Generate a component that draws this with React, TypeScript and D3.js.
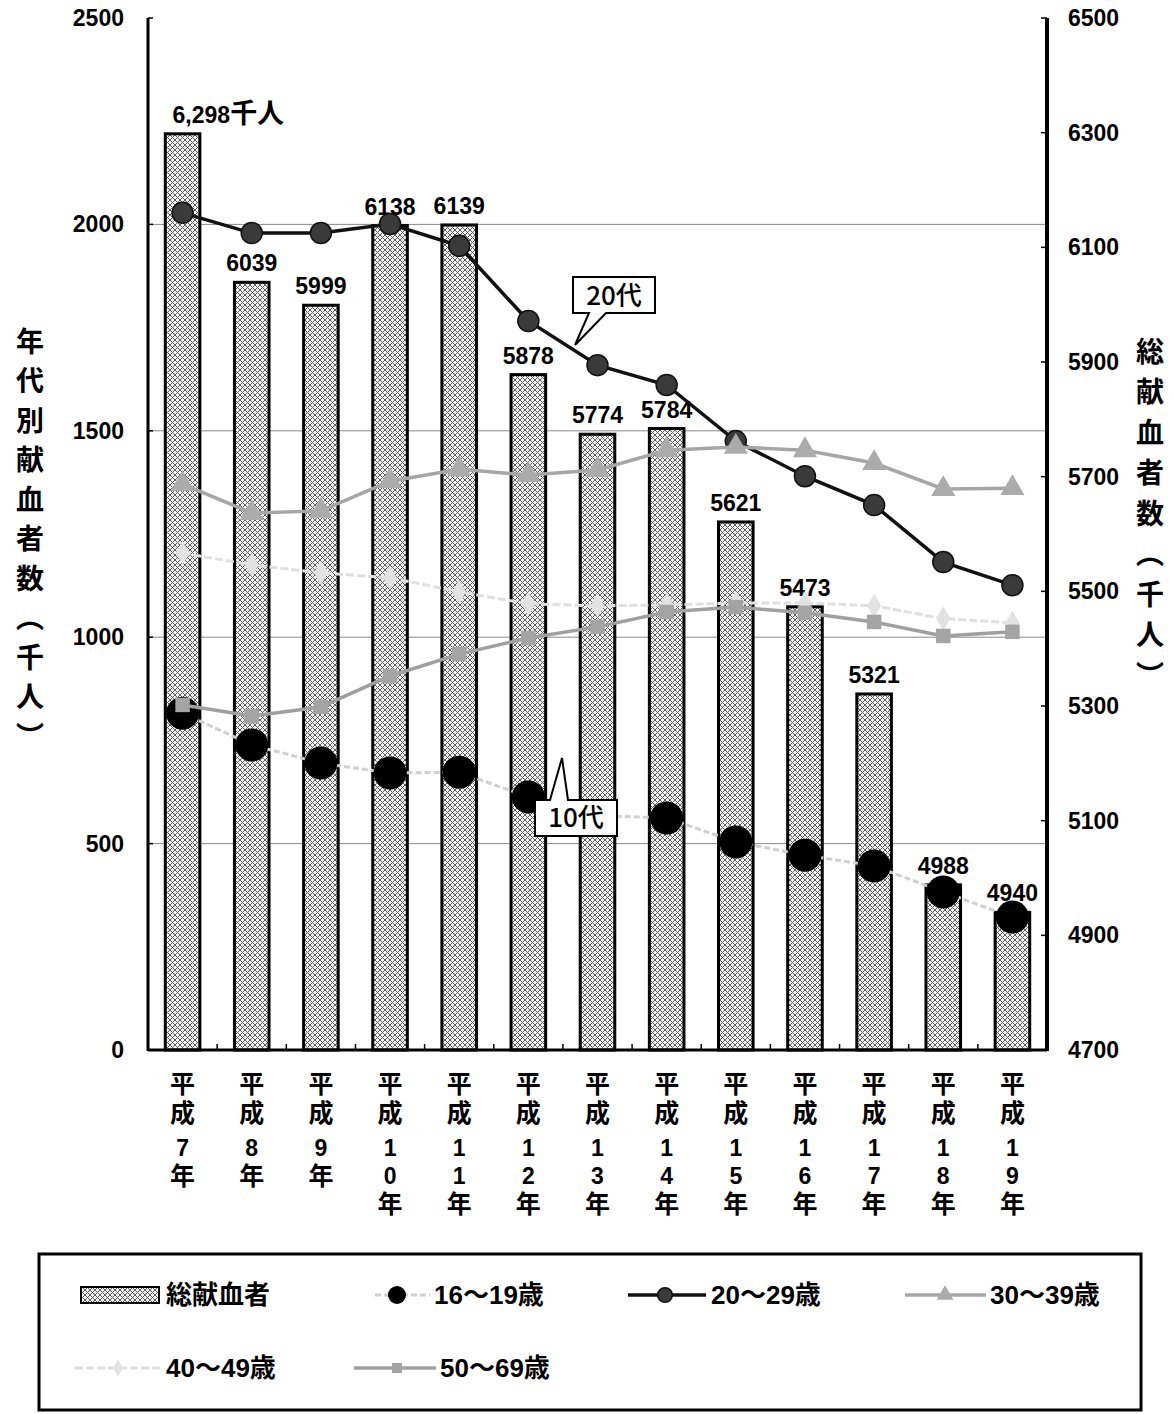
import React from 'react';
import * as d3 from 'd3';

const categories = ['平成7年', '平成8年', '平成9年', '平成10年', '平成11年', '平成12年', '平成13年', '平成14年', '平成15年', '平成16年', '平成17年', '平成18年', '平成19年'];
const totalDonors = [6298, 6039, 5999, 6138, 6139, 5878, 5774, 5784, 5621, 5473, 5321, 4988, 4940];
const age16to19 = [816, 739, 695, 671, 673, 613, 568, 562, 504, 472, 446, 383, 322];
const age20to29 = [2028, 1979, 1979, 2001, 1948, 1766, 1659, 1611, 1475, 1390, 1320, 1182, 1126];
const age30to39 = [1371, 1301, 1306, 1378, 1407, 1393, 1405, 1453, 1461, 1453, 1422, 1359, 1361];
const age40to49 = [1204, 1175, 1156, 1144, 1110, 1081, 1076, 1078, 1083, 1083, 1076, 1045, 1035];
const age50to69 = [836, 809, 831, 906, 959, 998, 1025, 1061, 1073, 1059, 1037, 1003, 1013];
const leftTicks = [0, 500, 1000, 1500, 2000, 2500];
const rightTicks = [4700, 4900, 5100, 5300, 5500, 5700, 5900, 6100, 6300, 6500];
const leftTitle = '年代別献血者数（千人）';
const rightTitle = '総献血者数（千人）';

const FONT = '"Liberation Sans", Arial, "Noto Sans CJK JP", sans-serif';
const JP = '"Noto Sans CJK JP", sans-serif';

const plot = { left: 148, right: 1047, top: 18, bottom: 1050 };

type SeriesDef = {
    name: string,
    values: number[],
    line: string,
    width: number,
    dash?: string,
    marker: 'bigdot' | 'dot' | 'triangle' | 'diamond' | 'square',
};

const series: SeriesDef[] = [
    { name: '16～19歳', values: age16to19, line: '#d0d0d0', width: 3, dash: '6 3', marker: 'bigdot' },
    { name: '20～29歳', values: age20to29, line: '#111', width: 3.5, marker: 'dot' },
    { name: '30～39歳', values: age30to39, line: '#a6a6a6', width: 3.5, marker: 'triangle' },
    { name: '40～49歳', values: age40to49, line: '#e0e0e0', width: 3, dash: '8 3', marker: 'diamond' },
    { name: '50～69歳', values: age50to69, line: '#a0a0a0', width: 3.5, marker: 'square' },
];

function Marker({ kind, x, y, legend }: { kind: SeriesDef['marker'], x: number, y: number, legend?: boolean }) {
    const k = legend ? 0.7 : 1;
    if (kind === 'bigdot') {
        return <circle cx={x} cy={y} r={legend ? 9 : 16.5} fill="#000" />;
    }
    if (kind === 'dot') {
        return <circle cx={x} cy={y} r={10.5 * k} fill="#3a3a3a" stroke="#111" strokeWidth={1.5} />;
    }
    const sym = kind === 'triangle' ? d3.symbolTriangle : kind === 'diamond' ? d3.symbolDiamond : d3.symbolSquare;
    const size = kind === 'triangle' ? 250 : kind === 'diamond' ? 170 : 210;
    const fill = kind === 'triangle' ? '#ababab' : kind === 'diamond' ? '#e2e2e2' : '#a4a4a4';
    const d = d3.symbol().type(sym).size(size * k * k)() || '';
    return <path d={d} transform={`translate(${x},${y})`} fill={fill} />;
}

export default function App() {
    const x = d3.scaleBand<string>().domain(categories).range([plot.left, plot.right]).paddingInner(0.5).paddingOuter(0.25);
    const yL = d3.scaleLinear().domain([0, 2500]).range([plot.bottom, plot.top]);
    const yR = d3.scaleLinear().domain([4700, 6500]).range([plot.bottom, plot.top]);
    const bw = x.bandwidth();
    const cx = (c: string) => (x(c) || 0) + bw / 2;

    const line = d3.line<number>()
        .x((_, i) => cx(categories[i]))
        .y(d => yL(d));

    // vertical stacking of category label characters
    const catY = (j: number) => j === 0 ? 1084 : j === 1 ? 1113 : 1148 + (j - 2) * 28;

    return (
        <svg width={1174} height={1414} style={{ position: 'absolute', left: 0, top: 0, background: '#fff' }}>
            <defs>
                <pattern id="hatch" patternUnits="userSpaceOnUse" width={5} height={5}>
                    <rect width={5} height={5} fill="#f2f2f2" />
                    <path d="M0,0 L5,5 M5,0 L0,5" stroke="#5e5e5e" strokeWidth={1} />
                </pattern>
            </defs>

            {/* grid */}
            {leftTicks.filter(t => t > 0 && t < 2500).map(t => (
                <line key={t} x1={plot.left} x2={plot.right} y1={yL(t)} y2={yL(t)} stroke="#8a8a8a" strokeWidth={1} />
            ))}

            {/* bars */}
            {categories.map((c, i) => (
                <rect key={c} x={x(c)} y={yR(totalDonors[i])} width={bw} height={plot.bottom - yR(totalDonors[i])}
                    fill="url(#hatch)" stroke="#000" strokeWidth={3} />
            ))}

            {/* bar labels */}
            {categories.map((c, i) => (
                <text key={c} x={i === 0 ? cx(c) - 10 : cx(c)} y={yR(totalDonors[i]) - 11}
                    textAnchor={i === 0 ? 'start' : 'middle'} fontFamily={FONT} fontWeight={700} fontSize={23}>
                    {i === 0 ? <>{d3.format(',')(totalDonors[i])}<tspan fontFamily={JP} fontSize={27}>千人</tspan></> : totalDonors[i]}
                </text>
            ))}

            {/* lines */}
            {series.map(s => (
                <g key={s.name}>
                    <path d={line(s.values) || ''} fill="none" stroke={s.line} strokeWidth={s.width} strokeDasharray={s.dash} />
                    {s.values.map((v, i) => <Marker key={i} kind={s.marker} x={cx(categories[i])} y={yL(v)} />)}
                </g>
            ))}

            {/* axes */}
            <line x1={plot.left} x2={plot.left} y1={plot.top} y2={plot.bottom + 1} stroke="#000" strokeWidth={3} />
            <line x1={plot.right} x2={plot.right} y1={plot.top} y2={plot.bottom + 1} stroke="#000" strokeWidth={4} />
            <line x1={plot.left} x2={plot.right} y1={plot.bottom} y2={plot.bottom} stroke="#000" strokeWidth={3} />
            {categories.map((c, i) => i > 0 && (
                <line key={c} x1={(x(c) || 0) - x.step() * 0.25} x2={(x(c) || 0) - x.step() * 0.25}
                    y1={plot.bottom} y2={plot.bottom - 6} stroke="#000" strokeWidth={1.5} />
            ))}
            {rightTicks.map(t => (
                <line key={t} x1={plot.right} x2={plot.right - 6} y1={yR(t)} y2={yR(t)} stroke="#000" strokeWidth={1.5} />
            ))}
            {leftTicks.map(t => (
                <line key={t} x1={plot.left} x2={plot.left + 5} y1={yL(t)} y2={yL(t)} stroke="#000" strokeWidth={1.5} />
            ))}

            {leftTicks.map(t => (
                <text key={t} x={124} y={yL(t)} dy="0.35em" textAnchor="end" fontFamily={FONT} fontWeight={700} fontSize={23}>{t}</text>
            ))}
            {rightTicks.map(t => (
                <text key={t} x={1068} y={yR(t)} dy="0.35em" textAnchor="start" fontFamily={FONT} fontWeight={700} fontSize={23}>{t}</text>
            ))}

            {/* category labels, stacked vertically */}
            {categories.map(c => (
                <text key={c} textAnchor="middle" fontFamily={FONT} fontWeight={700} fontSize={24}>
                    {Array.from(c).map((ch, j) => (
                        <tspan key={j} x={cx(c)} y={catY(j)} dy="0.35em" fontSize={/[0-9]/.test(ch) ? 23 : 25}>{ch}</tspan>
                    ))}
                </text>
            ))}

            {/* axis titles */}
            <text textAnchor="middle" fontFamily={JP} fontWeight={700} fontSize={28}>
                {Array.from(leftTitle).map((ch, j) => (
                    <tspan key={j} x={30} y={342 + j * 39.5} dy="0.35em">{ch === '（' ? '︵' : ch === '）' ? '︶' : ch}</tspan>
                ))}
            </text>
            <text textAnchor="middle" fontFamily={JP} fontWeight={700} fontSize={28}>
                {Array.from(rightTitle).map((ch, j) => (
                    <tspan key={j} x={1150} y={352 + j * 40.5} dy="0.35em">{ch === '（' ? '︵' : ch === '）' ? '︶' : ch}</tspan>
                ))}
            </text>

            {/* callouts */}
            <path d="M573,277 H655 V313 H606 L575,345 L589,313 H573 Z" fill="#fff" stroke="#000" strokeWidth={2} />
            <text x={614} y={296} dy="0.35em" textAnchor="middle" fontFamily={JP} fontWeight={500} fontSize={26}>20代</text>
            <path d="M535,800 H550 L562,758 L568,800 H617 V836 H535 Z" fill="#fff" stroke="#000" strokeWidth={2} />
            <text x={576} y={818} dy="0.35em" textAnchor="middle" fontFamily={JP} fontWeight={500} fontSize={26}>10代</text>

            {/* legend */}
            <rect x={39} y={1254} width={1102} height={156} fill="none" stroke="#000" strokeWidth={3} />
            <rect x={81} y={1287} width={78} height={16} fill="url(#hatch)" stroke="#000" strokeWidth={2} />
            <text x={166} y={1295} dy="0.35em" fontFamily={JP} fontWeight={700} fontSize={26}>総献血者</text>
            {[
                { s: series[0], lx: 375, rx: 430, mx: 397, tx: 434, ty: 1295 },
                { s: series[1], lx: 628, rx: 706, mx: 665, tx: 711, ty: 1295 },
                { s: series[2], lx: 905, rx: 986, mx: 945, tx: 990, ty: 1295 },
                { s: series[3], lx: 75, rx: 160, mx: 118, tx: 166, ty: 1368 },
                { s: series[4], lx: 354, rx: 436, mx: 397, tx: 440, ty: 1368 },
            ].map(({ s, lx, rx, mx, tx, ty }) => (
                <g key={s.name}>
                    <line x1={lx} x2={rx} y1={ty} y2={ty} stroke={s.line} strokeWidth={s.width} strokeDasharray={s.dash} />
                    <Marker kind={s.marker} x={mx} y={ty} legend />
                    <text x={tx} y={ty} dy="0.35em" fontFamily={FONT} fontWeight={700} fontSize={26}>{s.name}</text>
                </g>
            ))}
        </svg>
    );
}
